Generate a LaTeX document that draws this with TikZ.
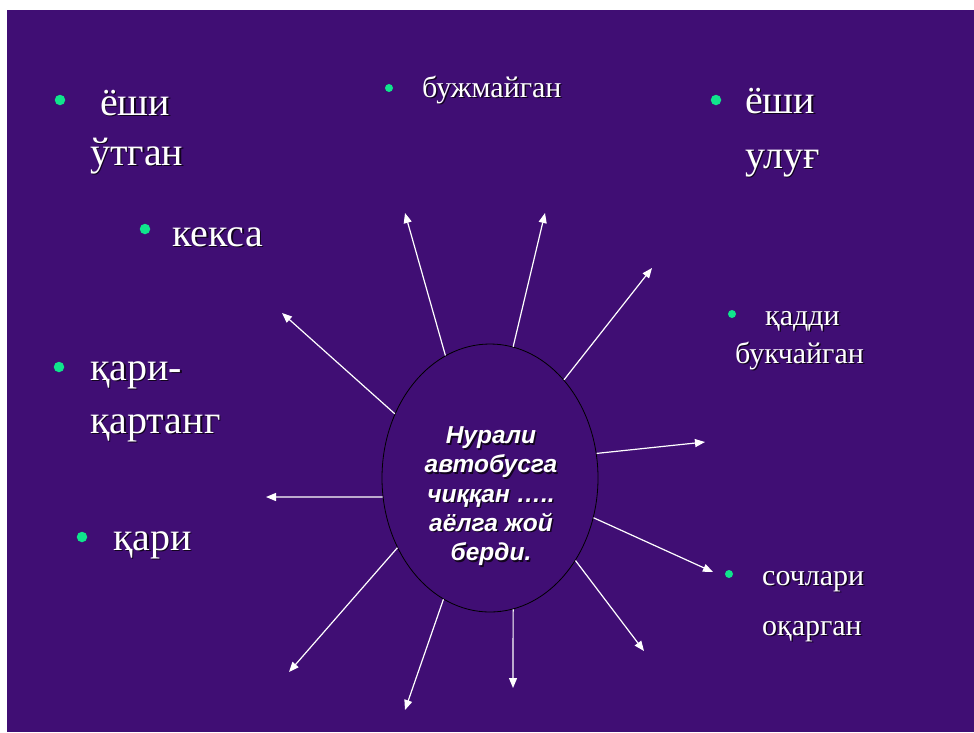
\documentclass[tikz,border=0pt]{standalone}
\usepackage{fontspec}
\setmainfont{Liberation Serif}
\newfontfamily\storyfont{Liberation Sans}
\usepackage{xcolor}
\usetikzlibrary{arrows.meta,shapes.geometric}

\definecolor{bgpurple}{RGB}{64,14,116}
\definecolor{bulletgreen}{RGB}{16,228,140}
\definecolor{shadowcol}{RGB}{18,4,30}
\newcommand{\shadowed}[1]{\leavevmode\rlap{\kern1.5pt\raisebox{-1.5pt}{\color{shadowcol}#1}}#1}

\tikzset{
  bigword/.style={anchor=base west, inner sep=0pt, text=white, font=\fontsize{40}{48}\selectfont},
  smallword/.style={anchor=base west, inner sep=0pt, text=white, font=\fontsize{30}{36}\selectfont},
  bigdot/.style={circle, fill=bulletgreen, inner sep=0pt, minimum size=10.5pt},
  smalldot/.style={circle, fill=bulletgreen, inner sep=0pt, minimum size=8pt},
  sunray/.style={draw=white, line width=1.2pt, -{Triangle[length=10pt,width=8pt]}}
}

\begin{document}
\begin{tikzpicture}[x=1pt,y=-1pt]
\fill[white] (0,0) rectangle (974,732);
\fill[bgpurple] (7,10) rectangle (974,732);

% centre
\node[ellipse, draw=black, line width=0.8pt, minimum width=216pt, minimum height=268pt] (story) at (490,478) {};
\node[align=center, text=white, inner sep=0pt, font=\storyfont\bfseries\itshape\fontsize{24.5}{29.3}\selectfont] (storytxt) at (491,497)
  {\shadowed{Нурали}\\ \shadowed{автобусга}\\ \shadowed{чиққан …..}\\ \shadowed{аёлга жой}\\ \shadowed{берди.}};

% words round it
\node[bigdot] (b1) at (60,100) {};
\node[bigword] (w1a) at (100,115) {\shadowed{ёши}};
\node[bigword] (w1b) at (90,165) {\shadowed{ўтган}};

\node[smalldot] (b2) at (389,88) {};
\node[smallword] (w2) at (422,97) {\shadowed{бужмайган}};

\node[bigdot] (b3) at (716,100) {};
\node[bigword] (w3a) at (745,113) {\shadowed{ёши}};
\node[bigword] (w3b) at (745,168) {\shadowed{улуғ}};

\node[bigdot] (b4) at (145,229) {};
\node[bigword] (w4) at (172,246) {\shadowed{кекса}};

\node[smalldot] (b5) at (732,314) {};
\node[smallword] (w5a) at (765,325) {\shadowed{қадди}};
\node[smallword] (w5b) at (735,363) {\shadowed{букчайган}};

\node[bigdot] (b6) at (59,367) {};
\node[bigword] (w6a) at (90,380) {\shadowed{қари-}};
\node[bigword] (w6b) at (90,433) {\shadowed{қартанг}};

\node[bigdot] (b7) at (82,537) {};
\node[bigword] (w7) at (113,550) {\shadowed{қари}};

\node[smalldot] (b8) at (729,574) {};
\node[smallword] (w8a) at (762,585) {\shadowed{сочлари}};
\node[smallword] (w8b) at (762,635) {\shadowed{оқарган}};

% arrow ends
\coordinate (t1) at (405,213);
\coordinate (t2) at (545,213);
\coordinate (t3) at (652,268);
\coordinate (t4) at (282,313);
\coordinate (t5) at (266,497);
\coordinate (t6) at (705,442);
\coordinate (t7) at (713,572);
\coordinate (t8) at (289,672);
\coordinate (t9) at (405,710);
\coordinate (t10) at (513,688);
\coordinate (t11) at (644,651);

\draw[sunray] (story.110.5) -- (t1);
\draw[sunray] (story.80.2) -- (t2);
\draw[sunray] (story.53.6) -- (t3);
\draw[sunray] (story.146.8) -- (t4);
\draw[sunray] (story.190) -- (t5);
\draw[sunray] (story.13.7) -- (t6);
\draw[sunray] (story.-21.3) -- (t7);
\draw[sunray] (story.217.7) -- (t8);
\draw[sunray] (story.249.4) -- (t9);
\draw[sunray] (story.280.4) -- (t10);
\draw[sunray] (story.316.7) -- (t11);
\end{tikzpicture}
\end{document}
